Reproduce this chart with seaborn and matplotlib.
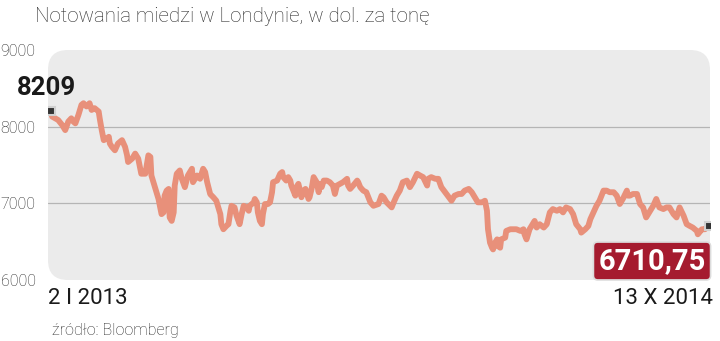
import numpy as np
import pandas as pd
import matplotlib
matplotlib.use("Agg")
import matplotlib.pyplot as plt
import seaborn as sns
from matplotlib.patches import FancyBboxPatch
from matplotlib import font_manager

title = "Notowania miedzi w Londynie, w dol. za tonę"
source = "źródło: Bloomberg"
start_label = "2 I 2013"
end_label = "13 X 2014"
first_value_label = "8209"
last_value_label = "6710,75"
yticks = [6000, 7000, 8000, 9000]
gridlines = [7000, 8000]

start_date = "2013-01-02"
days = [0, 1, 4, 7, 11, 14, 17, 20, 22, 24, 27, 30, 32, 35, 38, 40, 43, 47, 48, 50,
        52, 55, 57, 58, 60, 63, 66, 70, 73, 75, 76, 80, 83, 86, 89, 93, 96, 98, 99, 103,
        106, 109, 111, 112, 114, 116, 117, 119, 121, 122, 124, 127, 129, 132, 135, 139, 140, 144, 147, 150,
        152, 154, 157, 160, 163, 165, 167, 168, 170, 173, 175, 177, 178, 181, 183, 186, 188, 190, 193, 195,
        196, 200, 201, 203, 204, 206, 208, 209, 211, 214, 216, 218, 219, 223, 226, 228, 229, 232, 234, 236,
        237, 239, 241, 242, 244, 246, 247, 249, 251, 252, 254, 255, 257, 259, 260, 262, 264, 265, 267, 269,
        272, 275, 278, 280, 282, 285, 288, 292, 293, 295, 298, 302, 303, 305, 308, 311, 315, 318, 323, 326,
        328, 331, 336, 338, 341, 344, 347, 351, 354, 357, 361, 364, 367, 371, 372, 375, 379, 382, 385, 390,
        395, 398, 402, 405, 408, 412, 415, 418, 421, 425, 428, 430, 431, 433, 435, 436, 438, 440, 441, 443,
        444, 448, 449, 453, 456, 459, 463, 466, 467, 469, 471, 472, 476, 477, 479, 482, 486, 489, 492, 495,
        499, 502, 505, 508, 512, 515, 518, 522, 523, 527, 530, 532, 535, 538, 541, 545, 548, 551, 555, 558,
        561, 564, 568, 569, 571, 574, 578, 581, 584, 587, 591, 594, 597, 600, 604, 607, 610, 614, 617, 620,
        624, 627, 630, 633, 637, 638, 642, 645, 649]
prices = [8209, 8132, 8109, 8087, 8021, 7955, 8066, 8109, 8066, 8043, 8153, 8284, 8306, 8263, 8306, 8218, 8241, 8197, 8109, 7955,
          7824, 7846, 7868, 7780, 7737, 7692, 7780, 7824, 7737, 7626, 7539, 7583, 7649, 7583, 7386, 7386, 7626, 7605, 7363, 7188,
          7057, 6859, 6882, 7100, 7166, 7188, 6816, 6771, 6882, 7232, 7386, 7429, 7320, 7211, 7363, 7451, 7276, 7363, 7320, 7451,
          7408, 7276, 7120, 7080, 7034, 6947, 6859, 6728, 6662, 6705, 6728, 6903, 6968, 6947, 6837, 6728, 6859, 6968, 6947, 6903,
          6968, 7013, 7057, 7013, 6882, 6771, 6728, 6859, 6991, 6991, 7013, 7145, 7276, 7297, 7386, 7408, 7342, 7297, 7342, 7297,
          7232, 7166, 7100, 7211, 7254, 7145, 7079, 7166, 7188, 7145, 7057, 7079, 7188, 7342, 7320, 7276, 7145, 7254, 7211, 7297,
          7297, 7276, 7232, 7122, 7232, 7254, 7276, 7320, 7232, 7188, 7232, 7297, 7276, 7211, 7166, 7145, 7013, 6968, 6991, 7100,
          7079, 7013, 6947, 7013, 7100, 7166, 7276, 7297, 7211, 7276, 7386, 7363, 7342, 7232, 7320, 7342, 7320, 7320, 7211, 7122,
          7034, 7100, 7122, 7122, 7166, 7188, 7145, 7079, 7013, 7013, 7034, 6903, 6662, 6487, 6421, 6399, 6487, 6530, 6442, 6421,
          6530, 6553, 6640, 6662, 6662, 6662, 6640, 6662, 6596, 6530, 6618, 6662, 6750, 6771, 6684, 6728, 6684, 6728, 6882, 6925,
          6903, 6925, 6882, 6947, 6925, 6859, 6728, 6662, 6618, 6662, 6705, 6794, 6882, 6968, 7034, 7166, 7166, 7145, 7145, 7100,
          6991, 7057, 7166, 7100, 7100, 7122, 7122, 6991, 6947, 6816, 6903, 6968, 7057, 6947, 6925, 6947, 6947, 6859, 6816, 6947,
          6837, 6728, 6705, 6684, 6640, 6596, 6662, 6662, 6710.75]

sns.set_theme(style="white")
avail = {f.name for f in font_manager.fontManager.ttflist}
light = "Roboto" if "Roboto" in avail else "DejaVu Sans"
plt.rcParams["font.family"] = ["DejaVu Sans"]
fam = [light, "DejaVu Sans"]

df = pd.DataFrame({"date": pd.to_datetime(start_date) + pd.to_timedelta(days, unit="D"),
                   "price": prices})

fig = plt.figure(figsize=(7.2, 3.41), dpi=100)
fig.patch.set_facecolor("white")
ax = fig.add_axes([48 / 720, 1 - 280 / 341, 662 / 720, 230 / 341])
ax.set_facecolor("none")

panel = FancyBboxPatch((0, 0), 1, 1, boxstyle="round,pad=0,rounding_size=0.03",
                       transform=ax.transAxes, facecolor="#ebebeb", edgecolor="none",
                       zorder=0, mutation_aspect=662 / 230)
ax.add_patch(panel)

for g in gridlines:
    ax.axhline(g, color="#b5b5b5", lw=0.9, zorder=1)

sns.lineplot(data=df, x="date", y="price", ax=ax, color="#e8907a", lw=4.2,
             solid_joinstyle="round", solid_capstyle="round", zorder=3, legend=False)

x0 = df["date"].iloc[0]
x1 = df["date"].iloc[-1]
ax.set_xlim(x0 - pd.Timedelta(days=3), x1 + pd.Timedelta(days=1))
ax.set_ylim(6000, 9000)

for d, v in [(x0, prices[0]), (x1, prices[-1])]:
    ax.plot([d], [v], marker="s", ms=6, mfc="#333333", mec="#d0d0d0", mew=1.5, zorder=5)

ax.set_xticks([])
ax.set_yticks(yticks)
ax.set_yticklabels([str(t) for t in yticks], color="#222222", fontsize=11.5, family=fam,
                   fontweight="light")
ax.tick_params(axis="y", length=0, pad=9)
for s in ax.spines.values():
    s.set_visible(False)
ax.set_xlabel("")
ax.set_ylabel("")
ax.grid(False)

fig.text(35 / 720, 1 - 16 / 341, title, fontsize=14.8, color="#2a2a2a", va="center", ha="left",
         family=fam, fontweight="light")
fig.text(17 / 720, 1 - 88 / 341, first_value_label, fontsize=18.5, fontweight="bold",
         color="#1a1a1a", va="center", ha="left", family=fam)
fig.text(652 / 720, 1 - 261 / 341, last_value_label, fontsize=21, fontweight="bold",
         color="white", va="center", ha="center", family=fam,
         bbox=dict(boxstyle="round,pad=0.17,rounding_size=0.15", fc="#a51b2f", ec="#dcdcdc", lw=1.2))
fig.text(48 / 720, 1 - 298 / 341, start_label, fontsize=16, color="#1a1a1a", va="center", ha="left",
         family=fam)
fig.text(713 / 720, 1 - 298 / 341, end_label, fontsize=16, color="#1a1a1a", va="center", ha="right",
         family=fam)
fig.text(52 / 720, 1 - 330 / 341, source, fontsize=11.6, color="#2a2a2a", va="center", ha="left",
         family=fam, fontweight="light")

fig.savefig("out.png", dpi=100, facecolor="white")
